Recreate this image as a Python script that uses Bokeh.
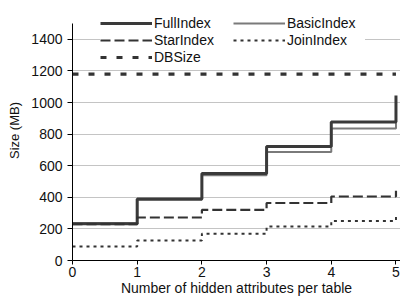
from bokeh.plotting import figure
from bokeh.models import Legend, LegendItem, FixedTicker, Range1d
from bokeh.embed import file_html
from bokeh.resources import INLINE

# data
hidden_attrs = [0, 1, 2, 3, 4, 5]
full_index = [232, 389, 550, 722, 877, 1045]
basic_index = [236, 385, 540, 686, 835, 990]
star_index = [230, 272, 320, 364, 405, 442]
join_index = [88, 126, 170, 215, 250, 280]
db_size = [1180, 1180, 1180, 1180, 1180, 1180]
y_ticks = [0, 200, 400, 600, 800, 1000, 1200, 1400]
x_ticks = [0, 1, 2, 3, 4, 5]

FONT = "Liberation Sans"

# frame spans the canvas top; the axis itself stops at 1500, headroom holds the legend
p = figure(width=400, height=298, output_backend="svg", toolbar_location=None,
           x_range=Range1d(0, 5.07), y_range=Range1d(0, 1645.6),
           min_border_left=72, min_border_right=0, min_border_top=0, min_border_bottom=38)
p.outline_line_color = None
p.background_fill_color = "white"

r_basic = p.step(hidden_attrs, basic_index, mode="after", line_color="#7a7a7a", line_width=2)
r_full = p.step(hidden_attrs, full_index, mode="after", line_color="#3a3a3a", line_width=3)
r_star = p.step(hidden_attrs, star_index, mode="after", line_color="#333333", line_width=2.2, line_dash="10 4")
r_join = p.step(hidden_attrs, join_index, mode="after", line_color="#333333", line_width=2, line_dash="3 4")
r_db = p.line(hidden_attrs, db_size, line_color="#333333", line_width=3.2, line_dash="6 10")

# axes
p.xaxis.ticker = FixedTicker(ticks=x_ticks)
p.yaxis.ticker = FixedTicker(ticks=y_ticks)
p.yaxis.bounds = (0, 1500)
for ax in (p.xaxis, p.yaxis):
    ax.axis_line_color = "black"
    ax.major_tick_line_color = "black"
    ax.major_tick_in = 0
    ax.minor_tick_line_color = None
    ax.major_label_text_font = FONT
    ax.major_label_text_font_size = "14px"
    ax.major_label_text_color = "#111111"
    ax.axis_label_text_font = FONT
    ax.axis_label_text_font_size = "14px"
    ax.axis_label_text_font_style = "normal"
    ax.axis_label_text_color = "#111111"
p.yaxis.axis_label_text_font_size = "13px"
p.xaxis.major_tick_out = 4
p.yaxis.major_tick_out = 5
p.xaxis.axis_label = "Number of hidden attributes per table"
p.yaxis.axis_label = "Size (MB)"
p.xaxis.major_label_standoff = 2
p.xaxis.axis_label_standoff = 0
p.yaxis.major_label_standoff = 5
p.yaxis.axis_label_standoff = 6

p.xgrid.grid_line_color = None
p.ygrid.grid_line_color = "#c4c4c4"
p.ygrid.grid_line_width = 1

legend = Legend(items=[
    LegendItem(label="FullIndex", renderers=[r_full]),
    LegendItem(label="BasicIndex", renderers=[r_basic]),
    LegendItem(label="StarIndex", renderers=[r_star]),
    LegendItem(label="JoinIndex", renderers=[r_join]),
    LegendItem(label="DBSize", renderers=[r_db]),
], orientation="horizontal", ncols=2, location=(28, 195))
legend.glyph_width = 52
legend.glyph_height = 16
legend.label_standoff = 2
legend.label_width = 78
legend.label_height = 16
legend.spacing = 1
legend.padding = 3
legend.margin = 0
legend.border_line_color = None
legend.background_fill_color = "white"
legend.background_fill_alpha = 1
legend.label_text_font = FONT
legend.label_text_font_size = "14px"
legend.label_text_color = "#111111"
legend.label_text_baseline = "middle"
p.add_layout(legend, "center")

open("out.html", "w").write(file_html(p, INLINE))
